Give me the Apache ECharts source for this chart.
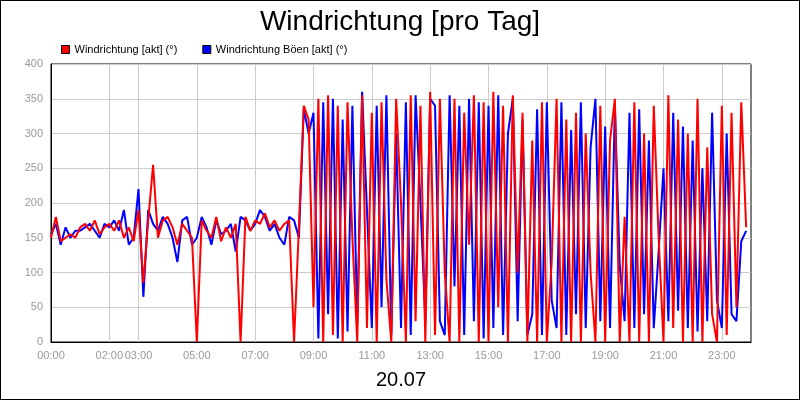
<!DOCTYPE html>
<html>
<head>
<meta charset="utf-8">
<script src="https://cdn.jsdelivr.net/npm/echarts@6/dist/echarts.min.js"></script>
<style>
html,body{margin:0;padding:0;background:#fff}
#chart{width:798px;height:398px;border:1px solid #000}
</style>
</head>
<body>
<div id="chart"></div>
<script>
// Werte alle 10 Minuten, 00:00 bis 23:50
var windRot = [
  150,180,145,150,155,150, 165,170,160,175,155,165, 170,160,175,150,165,145,
  190,85,175,255,150,175, 180,165,140,170,160,150, 0,175,160,150,180,145,
  165,150,170,0,180,160, 175,170,185,165,175,160, 170,175,0,165,340,320,
  50,350,0,355,10,340, 0,345,150,0,355,20, 330,0,345,90,0,350,
  200,0,355,30,340,0, 360,10,350,100,0,350, 0,330,140,355,0,345,
  0,360,50,340,0,355, 100,330,0,290,0,345, 0,115,350,0,320,0,
  330,0,300,100,0,340, 0,290,350,0,180,0, 345,0,300,0,340,150,
  0,355,20,320,0,300, 0,350,0,280,40,0, 340,10,330,50,345,165
];
var windBlau = [
  155,170,140,165,150,160, 160,165,170,160,150,170, 165,175,160,190,140,150,
  220,65,190,170,160,180, 170,150,115,175,180,140, 150,180,165,140,175,155,
  160,170,130,180,175,160, 170,190,180,160,170,150, 140,180,175,150,335,300,
  330,5,345,40,350,5, 320,15,340,25,360,190, 20,340,50,355,10,300,
  20,345,10,355,200,30, 350,340,30,10,355,80, 340,10,350,30,345,5,
  340,20,355,10,300,350, 30,320,10,40,335,10, 345,60,20,345,10,305,
  40,345,20,280,350,30, 310,20,340,110,30,330, 20,335,40,290,20,130,
  250,30,330,45,310,20, 290,15,250,30,330,60, 20,300,40,30,145,160
];
var zeitLabels = [];
for (var i = 0; i <= 144; i++) {
  var h = Math.floor(i / 6), m = (i % 6) * 10;
  zeitLabels.push((h < 10 ? '0' : '') + h + ':' + (m < 10 ? '0' : '') + m);
}
var gezeigteStunden = [0, 2, 3, 5, 7, 9, 11, 13, 15, 17, 19, 21, 23];

var zeigen = function (idx) {
  return idx % 6 === 0 && gezeigteStunden.indexOf(idx / 6) >= 0;
};

var chart = echarts.init(document.getElementById('chart'));
chart.setOption({
  backgroundColor: '#fff',
  animation: false,
  title: {
    text: 'Windrichtung [pro Tag]',
    left: 'center', top: 2,
    textStyle: { fontSize: 28, fontWeight: 'normal', color: '#000', fontFamily: 'Liberation Sans' }
  },
  legend: {
    left: 55, top: 38, itemWidth: 8, itemHeight: 8, itemGap: 25,
    icon: 'rect',
    itemStyle: { borderColor: '#000', borderWidth: 1 },
    textStyle: { fontSize: 11, color: '#000', fontFamily: 'Liberation Sans' },
    data: ['Windrichtung [akt] (°)', 'Windrichtung Böen [akt] (°)']
  },
  grid: { left: 50, right: 48, top: 63, bottom: 57, show: true, borderColor: '#000', borderWidth: 1 },
  xAxis: {
    type: 'category',
    data: zeitLabels,
    boundaryGap: false,
    name: '20.07',
    nameLocation: 'middle',
    nameGap: 28,
    nameTextStyle: { fontSize: 20, color: '#000', fontFamily: 'Liberation Sans' },
    axisLine: { lineStyle: { color: '#000' } },
    axisTick: { show: false },
    axisLabel: { interval: function (idx) { return zeigen(idx); }, color: '#999', fontSize: 11 },
    splitLine: { show: true, interval: function (idx) { return zeigen(idx); }, lineStyle: { color: '#ccc' } }
  },
  yAxis: {
    type: 'value', min: 0, max: 400, interval: 50,
    axisLine: { show: true, lineStyle: { color: '#000' } },
    axisLabel: { color: '#999', fontSize: 11 },
    splitLine: { lineStyle: { color: '#ccc' } }
  },
  series: [
    { name: 'Windrichtung Böen [akt] (°)', type: 'line', data: windBlau, showSymbol: false,
      itemStyle: { color: '#0000ff' }, lineStyle: { width: 2, color: '#0000ff' } },
    { name: 'Windrichtung [akt] (°)', type: 'line', data: windRot, showSymbol: false,
      itemStyle: { color: '#ff0000' }, lineStyle: { width: 2, color: '#ff0000' } }
  ]
});
</script>
</body>
</html>
